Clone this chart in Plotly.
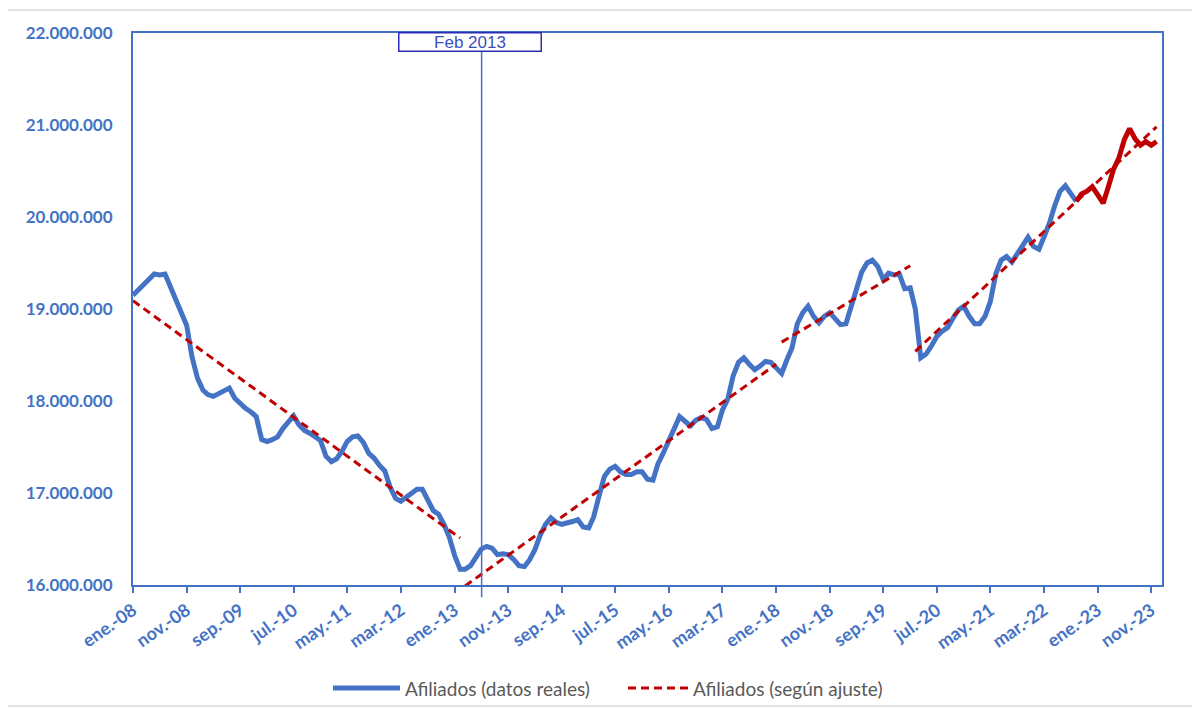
import pandas as pd
import plotly.graph_objects as go

# ---------------- data (millions of affiliates, monthly from Jan-2008) ----------------
months = pd.date_range("2008-01-01", periods=192, freq="MS")

y2008 = [19.15, 19.21, 19.27, 19.33, 19.38, 19.37, 19.38, 19.24, 19.10, 18.98, 18.82, 18.48]
y2009 = [18.25, 18.12, 18.07, 18.05, 18.08, 18.12, 18.14, 18.03, 17.97, 17.92, 17.88, 17.83]
y2010 = [17.58, 17.56, 17.58, 17.61, 17.70, 17.78, 17.84, 17.74, 17.68, 17.65, 17.61, 17.57]
y2011 = [17.40, 17.34, 17.37, 17.45, 17.56, 17.61, 17.62, 17.55, 17.43, 17.38, 17.30, 17.24]
y2012 = [17.06, 16.94, 16.91, 16.95, 17.00, 17.04, 17.04, 16.92, 16.81, 16.77, 16.66, 16.52]
y2013 = [16.32, 16.17, 16.17, 16.21, 16.31, 16.39, 16.42, 16.40, 16.33, 16.34, 16.33, 16.28]
y2014 = [16.21, 16.20, 16.27, 16.38, 16.54, 16.66, 16.73, 16.68, 16.66, 16.67, 16.69, 16.71]
y2015 = [16.63, 16.62, 16.74, 16.97, 17.18, 17.26, 17.29, 17.23, 17.20, 17.20, 17.23, 17.23]
y2016 = [17.15, 17.14, 17.32, 17.44, 17.58, 17.71, 17.83, 17.78, 17.73, 17.79, 17.82, 17.80]
y2017 = [17.70, 17.72, 17.90, 18.02, 18.27, 18.42, 18.47, 18.40, 18.34, 18.38, 18.43, 18.42]
y2018 = [18.36, 18.30, 18.44, 18.58, 18.84, 18.96, 19.03, 18.92, 18.85, 18.92, 18.96, 18.90]
y2019 = [18.83, 18.84, 19.02, 19.18, 19.40, 19.50, 19.53, 19.46, 19.32, 19.39, 19.37, 19.38]
y2020 = [19.22, 19.23, 19.00, 18.47, 18.51, 18.60, 18.70, 18.76, 18.80, 18.90, 18.99, 19.03]
y2021 = [18.92, 18.84, 18.84, 18.92, 19.08, 19.38, 19.53, 19.57, 19.51, 19.60, 19.69, 19.78]
y2022 = [19.68, 19.65, 19.78, 19.93, 20.12, 20.28, 20.34, 20.26, 20.17, 20.25, 20.28, 20.33]
y2023 = [20.24, 20.15, 20.32, 20.52, 20.64, 20.84, 20.96, 20.85, 20.78, 20.82, 20.78, 20.82]

real_values = (y2008 + y2009 + y2010 + y2011 + y2012 + y2013 + y2014 + y2015 +
               y2016 + y2017 + y2018 + y2019 + y2020 + y2021 + y2022 + y2023)
split_index = 176  # last month drawn in blue; from here on drawn in dark red

# fitted trend segments: (start month, start value, end month, end value)
trend_segments = [
    ("2008-01-01", 19.09, "2013-02-01", 16.51),
    ("2013-03-01", 15.99, "2018-01-01", 18.40),
    ("2018-02-01", 18.64, "2020-02-01", 19.47),
    ("2020-03-01", 18.54, "2023-12-01", 20.98),
]

tick_months = months[::10]
tick_labels = ["ene.-08", "nov.-08", "sep.-09", "jul.-10", "may.-11", "mar.-12", "ene.-13",
               "nov.-13", "sep.-14", "jul.-15", "may.-16", "mar.-17", "ene.-18", "nov.-18",
               "sep.-19", "jul.-20", "may.-21", "mar.-22", "ene.-23", "nov.-23"]

marker_date = "2013-06-03"
marker_label = "Feb 2013"
legend_labels = ["Afiliados (datos reales)", "Afiliados (según ajuste)"]

# ---------------- styling ----------------
BLUE = "#4472C4"
RED = "#C00000"
FONT = "Lato"

SCALE = 1_000_000
yv = [v * SCALE for v in real_values]

fig = go.Figure()

fig.add_trace(go.Scatter(
    x=months[:split_index + 1], y=yv[:split_index + 1], mode="lines",
    line=dict(color=BLUE, width=5), name=legend_labels[0], showlegend=False))
fig.add_trace(go.Scatter(
    x=months[split_index:], y=yv[split_index:], mode="lines",
    line=dict(color=RED, width=5), showlegend=False))

for x0, v0, x1, v1 in trend_segments:
    fig.add_trace(go.Scatter(
        x=[x0, x1], y=[v0 * SCALE, v1 * SCALE], mode="lines",
        line=dict(color=RED, width=3, dash="8px,5px"),
        name=legend_labels[1], showlegend=False))

# The page body has an 8px margin, so the figure origin sits at (8, 8) on screen.
OFF = 8
FW, FH = 1200 - OFF, 713 - OFF
# plot area in screen pixels: left 133, right 1162, top 33, bottom 585
L, R, T, B = 133, 1162, 33, 585
W, H = R - L, B - T


def px(xp):
    return (xp - L) / W


def py(yp):
    return (B - yp) / H


fig.update_layout(
    width=FW, height=FH,
    margin=dict(l=L - OFF, r=1200 - R, t=T - OFF, b=713 - B),
    paper_bgcolor="white", plot_bgcolor="white",
    separators=",.",
    showlegend=False,
    font=dict(family=FONT, color=BLUE),
)

fig.update_xaxes(
    type="date", range=["2008-01-01", "2024-01-01"],
    tickmode="array", tickvals=tick_months, ticktext=tick_labels,
    tickangle=-35, tickfont=dict(family=FONT, size=18, color=BLUE, weight="bold"),
    ticks="outside", ticklen=6, tickwidth=2, tickcolor=BLUE,
    showline=True, linecolor=BLUE, linewidth=2, mirror=True,
    showgrid=False, zeroline=False,
)
fig.update_yaxes(
    range=[16 * SCALE, 22 * SCALE], dtick=SCALE, tickformat=",d",
    tickfont=dict(family=FONT, size=17, color=BLUE, weight="bold"),
    ticks="", ticklabelstandoff=15,
    showline=True, linecolor=BLUE, linewidth=2, mirror=True,
    showgrid=False, zeroline=False,
)

# vertical marker line
fig.add_shape(type="line", xref="x", yref="paper",
              x0=marker_date, x1=marker_date, y0=-0.022, y1=1,
              line=dict(color=BLUE, width=1.5))
fig.add_annotation(
    xref="paper", yref="paper", x=px(470), y=py(42),
    xanchor="center", yanchor="middle", showarrow=False,
    text=marker_label, font=dict(family="Liberation Sans", size=17, color="#3C4FC0"),
    bgcolor="white", bordercolor="#2B2BB5", borderwidth=1.5,
    width=141, height=17, borderpad=0,
)

# outer chart frame
fig.add_shape(type="rect", xref="paper", yref="paper",
              x0=px(7), x1=px(1194), y0=py(706), y1=py(10),
              line=dict(color="#D9D9D9", width=1.5), layer="below")

# legend drawn manually
leg_y = py(688)
fig.add_shape(type="line", xref="paper", yref="paper",
              x0=px(333), x1=px(400), y0=leg_y, y1=leg_y,
              line=dict(color=BLUE, width=5))
fig.add_annotation(xref="paper", yref="paper", x=px(403), y=leg_y,
                   xanchor="left", yanchor="middle", showarrow=False,
                   text=legend_labels[0], font=dict(family=FONT, size=19, color="#595959"))
fig.add_shape(type="line", xref="paper", yref="paper",
              x0=px(628), x1=px(688), y0=leg_y, y1=leg_y,
              line=dict(color=RED, width=3, dash="8px,5px"))
fig.add_annotation(xref="paper", yref="paper", x=px(691), y=leg_y,
                   xanchor="left", yanchor="middle", showarrow=False,
                   text=legend_labels[1], font=dict(family=FONT, size=19, color="#595959"))

fig.write_html("out.html")
